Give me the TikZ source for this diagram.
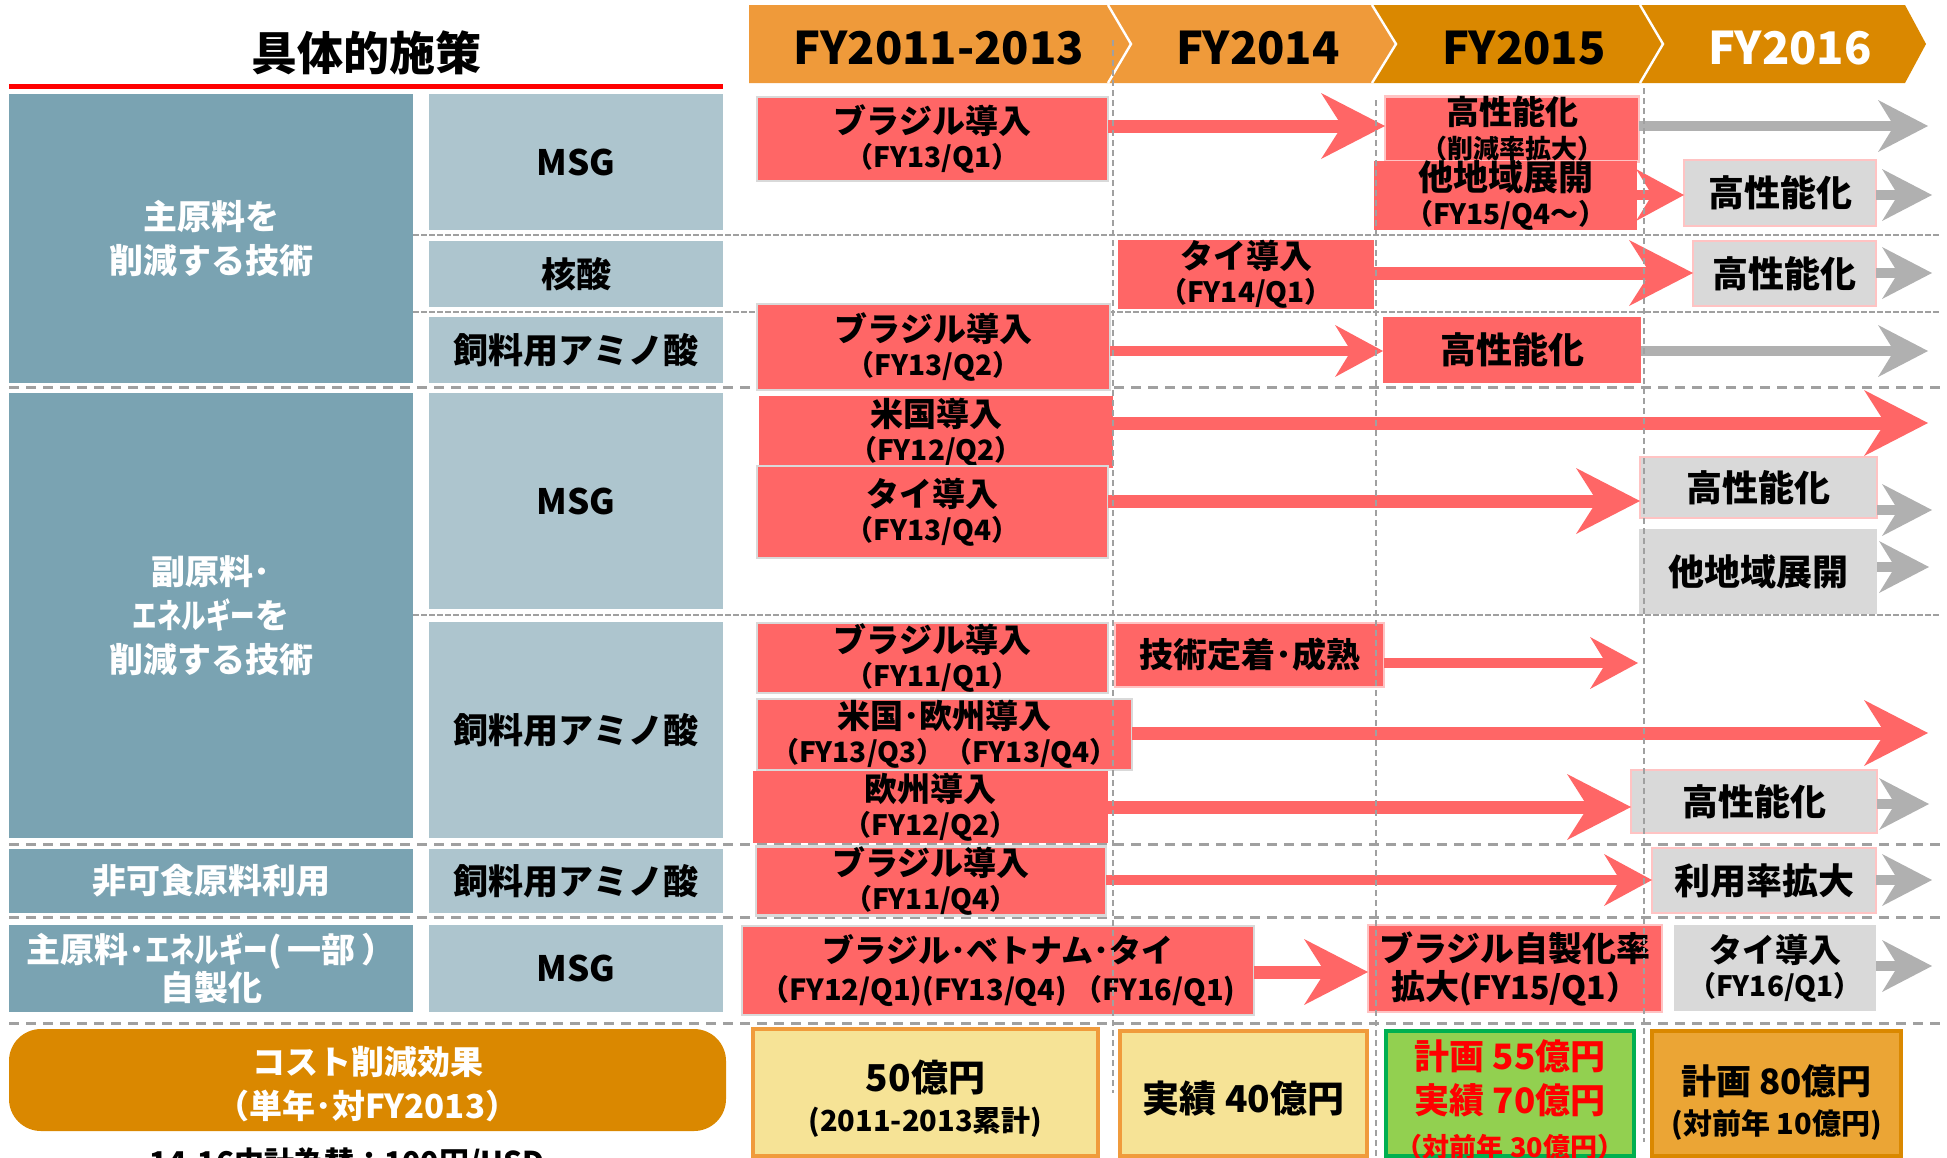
\documentclass[tikz,border=0pt]{standalone}
\usepackage{fontspec}
\newfontfamily\jp{Noto Sans CJK JP}
\usetikzlibrary{arrows.meta}
\definecolor{hdlight}{RGB}{239,154,58}
\definecolor{hddark}{RGB}{218,136,0}
\definecolor{dkblue}{RGB}{122,163,178}
\definecolor{ltblue}{RGB}{173,197,206}
\definecolor{rfill}{RGB}{255,102,102}
\definecolor{gfill}{RGB}{217,217,217}
\definecolor{garrow}{RGB}{176,176,176}
\definecolor{pinkb}{RGB}{255,195,195}
\definecolor{dashc}{RGB}{160,160,160}
\definecolor{yfill}{RGB}{246,227,150}
\definecolor{yborder}{RGB}{240,155,60}
\definecolor{grfill}{RGB}{146,208,80}
\definecolor{grborder}{RGB}{0,176,80}
\definecolor{ofill}{RGB}{235,165,53}
\definecolor{redtxt}{RGB}{255,0,0}
\newcommand\fsz[2]{\fontsize{#1}{#2}\selectfont}
\newcommand\nkana[1]{\scalebox{0.72}[1]{#1}}
\begin{document}
\begin{tikzpicture}[x=0.5pt,y=-0.5pt,
  bx/.style n args={4}{at={({(#1+#3)/2},{(#2+#4)/2})},minimum width={(#3-#1)*0.5pt},minimum height={(#4-#2)*0.5pt}},
  box/.style={inner sep=0pt,outer sep=0pt,align=center,font=\jp\bfseries},
  dkbox/.style={box,fill=dkblue,text=white,font=\jp\bfseries\fsz{17}{22}},
  ltbox/.style={box,fill=ltblue,font=\jp\bfseries\fsz{17.5}{20}},
  redbox/.style={box,fill=rfill,font=\jp\bfseries\fsz{16.5}{17}},
  rgb/.style={redbox,draw=black!15,line width=1.2pt},
  rpb/.style={redbox,draw=pinkb,line width=1.2pt},
  graybox/.style={box,fill=gfill,draw=pinkb,line width=1.2pt,font=\jp\bfseries\fsz{18}{17}},
  hdtext/.style={box,font=\jp\bfseries\fsz{22.5}{24}},
  majordash/.style={draw=dashc,line width=1.5pt,dash pattern=on 5pt off 3.5pt},
  minordash/.style={draw=dashc,line width=1pt,dash pattern=on 3pt off 1pt},
  vdash/.style={draw=dashc,line width=0.8pt,dash pattern=on 3pt off 2pt},
  rarL/.style={draw=rfill,line width=6.5pt,-{Stealth[length=32pt,width=33pt,inset=10.5pt,line width=0pt]}},
  rarS/.style={draw=rfill,line width=5pt,-{Stealth[length=24pt,width=26pt,inset=8pt,line width=0pt]}},
  gar/.style={draw=garrow,line width=5pt,-{Stealth[length=25pt,width=26pt,inset=8pt,line width=0pt]}},
  costbox/.style={box,line width=2pt},
]
\useasboundingbox (0,0) rectangle (1947,1157);
\clip (0,0) rectangle (1947,1157);

% title
\node[box,font=\jp\bfseries\fsz{23}{24}] (title) at (366,53) {具体的施策};
\draw[red,line width=2.5pt] (9,86) -- (723,86);

% header chevrons
\fill[hdlight] (749,5) -- (1108,5) -- (1131,44) -- (1108,83) -- (749,83) -- cycle;
\fill[hdlight] (1108,5) -- (1372,5) -- (1396,44) -- (1372,83) -- (1108,83) -- (1131,44) -- cycle;
\fill[hddark] (1372,5) -- (1640,5) -- (1663,44) -- (1640,83) -- (1372,83) -- (1396,44) -- cycle;
\fill[hddark] (1640,5) -- (1905,5) -- (1926,44) -- (1905,83) -- (1640,83) -- (1663,44) -- cycle;
\draw[white,line width=1.2pt] (1108,5) -- (1131,44) -- (1108,83);
\draw[white,line width=1.2pt] (1372,5) -- (1396,44) -- (1372,83);
\draw[white,line width=1.2pt] (1640,5) -- (1663,44) -- (1640,83);
\node[hdtext] (h1) at (939,48) {FY2011-2013};
\node[hdtext] (h2) at (1258,48) {FY2014};
\node[hdtext] (h3) at (1524,48) {FY2015};
\node[hdtext,text=white] (h4) at (1790,48) {FY2016};

% horizontal dashed separators
\draw[minordash] (413,235) -- (1940,235);
\draw[minordash] (413,312) -- (1940,312);
\draw[majordash] (9,387) -- (1940,387);
\draw[minordash] (413,615) -- (1940,615);
\draw[majordash] (9,844) -- (1940,844);
\draw[majordash] (9,917) -- (1940,917);
\draw[majordash] (9,1023) -- (1940,1023);

% left column
\node[dkbox,bx={9}{94}{413}{383}] (D1) {主原料を\\削減する技術};
\node[dkbox,bx={9}{393}{413}{838}] (D2) {副原料･\\\nkana{エネルギー}を\\削減する技術};
\node[dkbox,bx={9}{849}{413}{913}] (D3) {非可食原料利用};
\node[dkbox,bx={9}{925}{413}{1012},font=\jp\bfseries\fsz{17}{19}] (D4) {主原料･\nkana{エネルギー}(\,一部\,）\\自製化};

\node[ltbox,bx={429}{94}{723}{230}] (L1) {MSG};
\node[ltbox,bx={429}{241}{723}{307}] (L2) {核酸};
\node[ltbox,bx={429}{317}{723}{383}] (L3) {飼料用アミノ酸};
\node[ltbox,bx={429}{393}{723}{609}] (L4) {MSG};
\node[ltbox,bx={429}{622}{723}{838}] (L5) {飼料用アミノ酸};
\node[ltbox,bx={429}{849}{723}{913}] (L6) {飼料用アミノ酸};
\node[ltbox,bx={429}{925}{723}{1012}] (L7) {MSG};

\node[box,fill=hddark,rounded corners=16pt,bx={9}{1029}{726}{1131},
  label={[box,text=white,font=\jp\bfseries\fsz{16.5}{22},yshift=-2pt]center:{コスト削減効果\\（単年･対FY2013）}}] (O) {};
\node[box,font=\jp\bfseries\fsz{15}{16}] (note) at (347,1163) {14-16中計為替：100円/USD};

% red boxes
\node[rgb,bx={757}{97}{1108}{181}] (R1a) {ブラジル導入\\{\fsz{14}{17}（FY13/Q1）}};
\node[rpb,bx={1385}{97}{1639}{161}] (R1b) {高性能化\\{\fsz{13}{15}（削減率拡大）}};
\node[redbox,bx={1374}{163}{1637}{228}] (R1c) {{\fsz{17.5}{17}他地域展開}\\{\fsz{14}{17}（FY15/Q4～）}};
\node[redbox,bx={1118}{242}{1374}{307}] (R2a) {タイ導入\\{\fsz{14}{17}（FY14/Q1）}};
\node[rgb,bx={757}{304}{1110}{390}] (R3a) {ブラジル導入\\{\fsz{14}{17}（FY13/Q2）}};
\node[redbox,bx={1383}{317}{1641}{383},font=\jp\bfseries\fsz{18}{18}] (R3b) {高性能化};
\node[redbox,bx={759}{396}{1113}{468}] (R4a) {米国導入\\{\fsz{14}{17}（FY12/Q2）}};
\node[rgb,bx={757}{466}{1108}{558}] (R4b) {タイ導入\\{\fsz{14}{17}（FY13/Q4）}};
\node[rgb,bx={757}{623}{1108}{693}] (R5a) {ブラジル導入\\{\fsz{14}{17}（FY11/Q1）}};
\node[rpb,bx={1115}{623}{1384}{687},font=\jp\bfseries\fsz{17}{17}] (R5b) {技術定着･成熟};
\node[rgb,bx={757}{699}{1132}{770}] (R5c) {米国･欧州導入\\{\fsz{14}{17}（FY13/Q3）（FY13/Q4）}};
\node[redbox,bx={753}{771}{1108}{843}] (R5d) {欧州導入\\{\fsz{14}{17}（FY12/Q2）}};
\node[rgb,bx={756}{847}{1106}{915}] (R6a) {ブラジル導入\\{\fsz{14}{17}（FY11/Q4）}};
\node[rgb,bx={742}{926}{1254}{1015},font=\jp\bfseries\fsz{16}{19}] (R7a) {ブラジル･ベトナム･タイ\\{\fsz{14.5}{19}（FY12/Q1)(FY13/Q4) （FY16/Q1)}};
\node[rpb,bx={1368}{925}{1662}{1012},font=\jp\bfseries\fsz{17}{19}] (R7b) {ブラジル自製化率\\拡大{\fsz{16}{19}(FY15/Q1）}};

% gray boxes
\node[graybox,bx={1684}{160}{1876}{226}] (G1) {高性能化};
\node[graybox,bx={1693}{241}{1876}{306}] (G2) {高性能化};
\node[graybox,bx={1640}{457}{1877}{518}] (G4a) {高性能化};
\node[graybox,draw=none,bx={1639}{529}{1877}{614}] (G4b) {他地域展開};
\node[graybox,bx={1631}{770}{1877}{833}] (G5) {高性能化};
\node[graybox,bx={1652}{848}{1876}{913}] (G6) {利用率拡大};
\node[graybox,draw=none,bx={1674}{925}{1876}{1011},font=\jp\bfseries\fsz{16.5}{17}] (G7) {タイ導入\\{\fsz{14}{17}（FY16/Q1）}};

% cost boxes
\node[costbox,fill=yfill,draw=yborder,bx={753}{1029}{1098}{1156},
  label={[box,font=\jp\bfseries\fsz{18.5}{20},yshift=-3.2pt]center:{50億円\\{\fsz{14.5}{20}(2011-2013累計)}}}] (B1) {};
\node[costbox,fill=yfill,draw=yborder,bx={1120}{1031}{1367}{1156},
  label={[box,font=\jp\bfseries\fsz{18.5}{20},yshift=-2.5pt]center:{実績 40億円}}] (B2) {};
\node[costbox,fill=grfill,draw=grborder,bx={1386}{1031}{1634}{1156},
  label={[box,text=redtxt,font=\jp\bfseries\fsz{17.5}{22},yshift=-3pt]center:{計画 55億円\\実績 70億円\\{\fsz{13.5}{22}（対前年 30億円）}}}] (B3) {};
\node[costbox,fill=ofill,draw=hddark,bx={1652}{1031}{1901}{1156},
  label={[box,font=\jp\bfseries\fsz{17.5}{20},yshift=-4.5pt]center:{計画 80億円\\{\fsz{14.5}{20}(対前年 10億円)}}}] (B4) {};

% arrow reference coordinates
\coordinate (e1) at (1928,126);
\coordinate (e1c) at (1932,195);
\coordinate (e2) at (1932,273);
\coordinate (e3) at (1928,351);
\coordinate (e4a) at (1928,423);
\coordinate (c4b) at (1639,501);
\coordinate (e4g) at (1932,510);
\coordinate (e4c) at (1929,567);
\coordinate (e5b) at (1638,663);
\coordinate (e5c) at (1928,733);
\coordinate (c5d) at (1624,807);
\coordinate (e5g) at (1929,804);
\coordinate (e6) at (1932,880);
\coordinate (c7) at (1369,972);
\coordinate (e7) at (1932,966);

% red arrows
\draw[rarL] (R1a.east |- e1) -- (R1b.west |- e1);
\draw[rarS] (R1c.east |- e1c) -- (G1.west |- e1c);
\draw[rarL] (R2a.east |- e2) -- (G2.west |- e2);
\draw[rarS] (R3a.east |- e3) -- (R3b.west |- e3);
\draw[rarL] (R4a.east |- e4a) -- (e4a);
\draw[rarL] (R4b.east |- c4b) -- (G4a.west |- c4b);
\draw[rarS] (R5b.east |- e5b) -- (e5b);
\draw[rarL] (R5c.east |- e5c) -- (e5c);
\draw[rarL] (R5d.east |- c5d) -- (G5.west |- c5d);
\draw[rarS] (R6a.east |- e6) -- (G6.west |- e6);
\draw[rarL] (R7a.east |- c7) -- (R7b.west |- c7);

% gray arrows
\draw[gar] (R1b.east |- e1) -- (e1);
\draw[gar] (G1.east |- e1c) -- (e1c);
\draw[gar] (G2.east |- e2) -- (e2);
\draw[gar] (R3b.east |- e3) -- (e3);
\draw[gar] (G4a.east |- e4g) -- (e4g);
\draw[gar] (G4b.east |- e4c) -- (e4c);
\draw[gar] (G5.east |- e5g) -- (e5g);
\draw[gar] (G6.east |- e6) -- (e6);
\draw[gar] (G7.east |- e7) -- (e7);

% vertical dashed year lines
\draw[vdash] (1113,40) -- (1113,1093);
\draw[vdash] (1376,100) -- (1376,1157);
\draw[vdash] (1644,88) -- (1644,1142);
\end{tikzpicture}
\end{document}
